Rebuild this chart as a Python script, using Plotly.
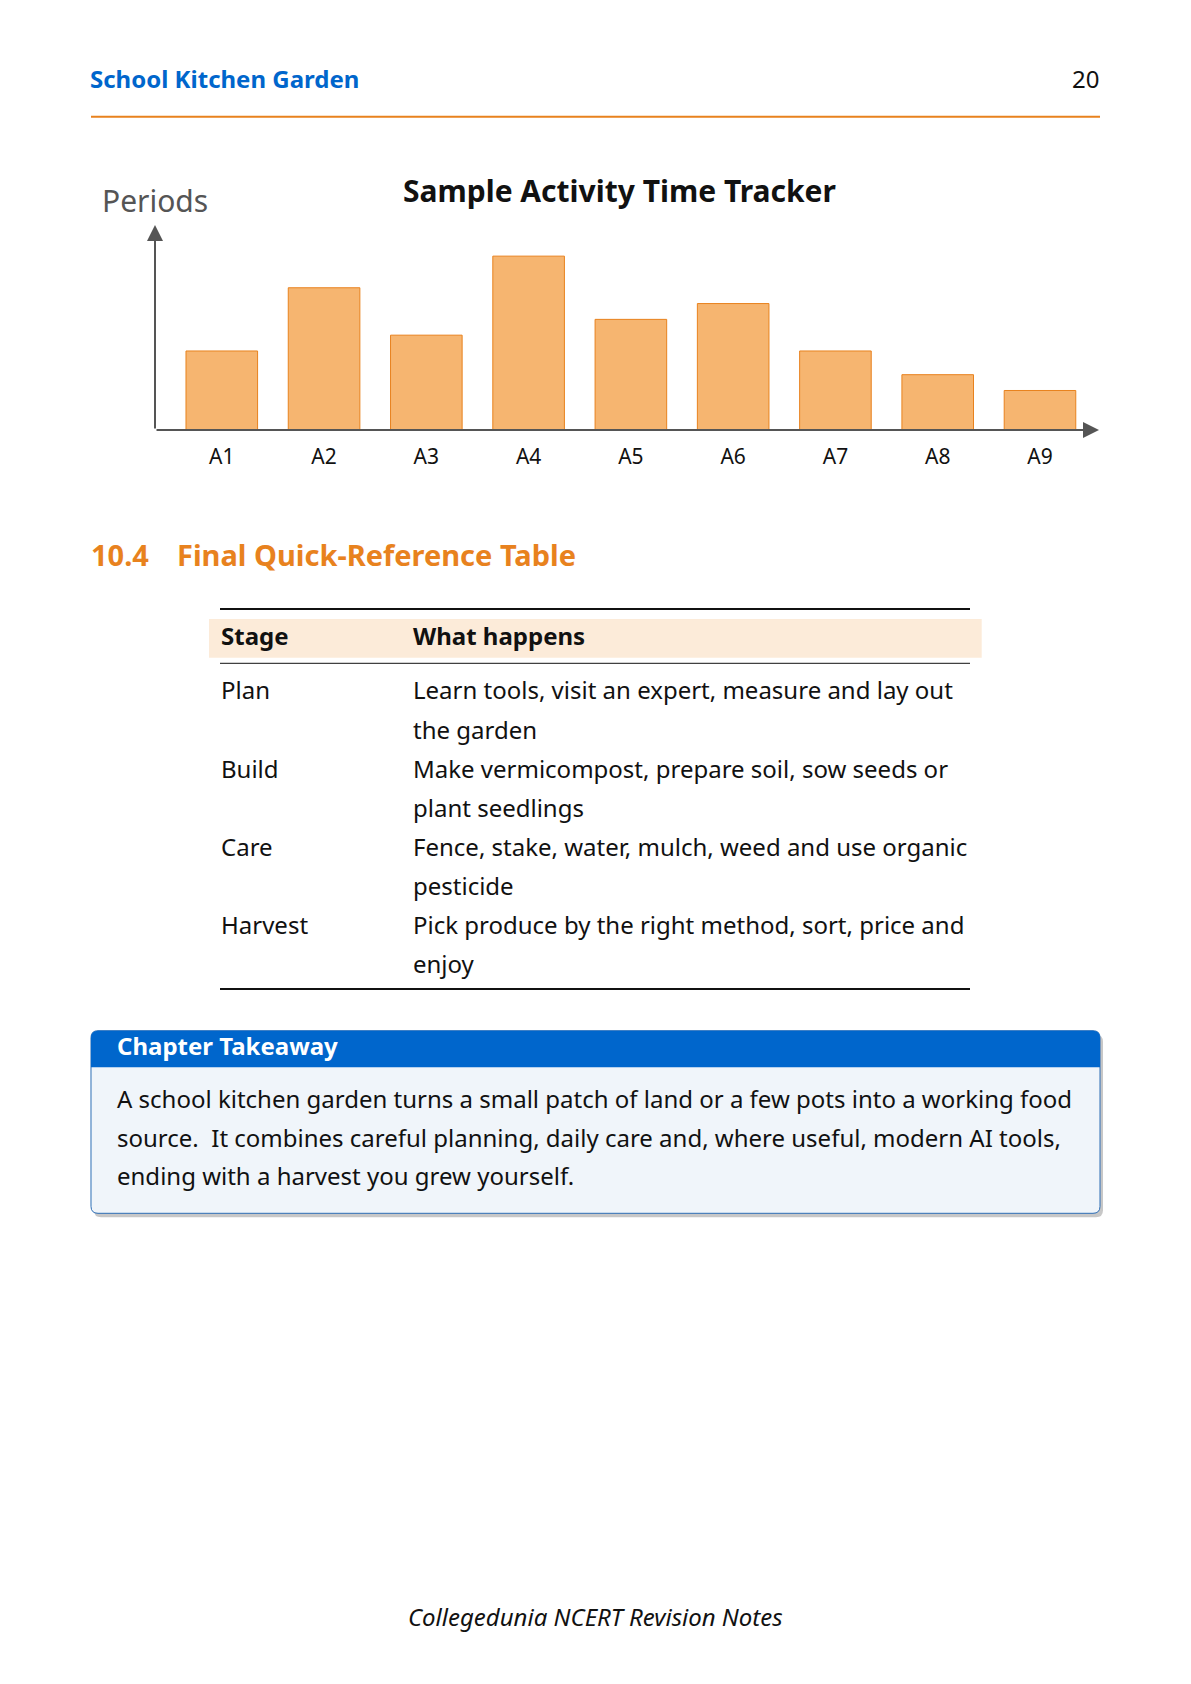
import plotly.graph_objects as go

# page geometry (browser body keeps its 8px margin)
W, H = 1175, 1668
OFF = 8

# chart data
activities = ["A1", "A2", "A3", "A4", "A5", "A6", "A7", "A8", "A9"]
periods = [5, 9, 6, 11, 7, 8, 5, 3.5, 2.5]

# table data
stages = ["Plan", "Build", "Care", "Harvest"]
happens = [
    ["Learn tools, visit an expert, measure and lay out", "the garden"],
    ["Make vermicompost, prepare soil, sow seeds or", "plant seedlings"],
    ["Fence, stake, water, mulch, weed and use organic", "pesticide"],
    ["Pick produce by the right method, sort, price and", "enjoy"],
]
takeaway_lines = [
    "A school kitchen garden turns a small patch of land or a few pots into a working food",
    "source.  It combines careful planning, daily care and, where useful, modern AI tools,",
    "ending with a harvest you grew yourself.",
]

BLUE = "#0066CC"
ORANGE = "#E8821E"
BAR_FILL = "#F6B570"
FONT = "Noto Sans"
BODY = 24


def px(x):
    return (x - OFF) / W


def py(y):
    return 1 - (y - OFF) / H


def text(fig, s, x, base, size, color="#111111", bold=False, italic=False, anchor="left"):
    # place a line of text by its baseline (pixel coords)
    if bold:
        s = f"<b>{s}</b>"
    if italic:
        s = f"<i>{s}</i>"
    if anchor == "left":
        x -= 2
    fig.add_annotation(
        text=s, x=px(x), y=py(base - 0.388 * size),
        xref="paper", yref="paper", xanchor=anchor, yanchor="middle",
        showarrow=False, borderpad=0,
        font=dict(family=FONT, size=size, color=color),
    )


def hline(fig, x0, x1, y, color, width):
    fig.add_shape(type="line", xref="paper", yref="paper",
                  x0=px(x0), x1=px(x1), y0=py(y), y1=py(y),
                  line=dict(color=color, width=width))


def rect(fig, x0, y0, x1, y1, fill):
    fig.add_shape(type="rect", xref="paper", yref="paper", layer="below",
                  x0=px(x0), x1=px(x1), y0=py(y1), y1=py(y0),
                  fillcolor=fill, line=dict(width=0))


def rounded(x0, y0, x1, y1, r, top=True, bottom=True):
    def P(x, y):
        return f"{px(x):.6f},{py(y):.6f}"
    rt = r if top else 0
    rb = r if bottom else 0
    return (f"M {P(x0 + rt, y0)} L {P(x1 - rt, y0)} Q {P(x1, y0)} {P(x1, y0 + rt)} "
            f"L {P(x1, y1 - rb)} Q {P(x1, y1)} {P(x1 - rb, y1)} "
            f"L {P(x0 + rb, y1)} Q {P(x0, y1)} {P(x0, y1 - rb)} "
            f"L {P(x0, y0 + rt)} Q {P(x0, y0)} {P(x0 + rt, y0)} Z")


fig = go.Figure()

# bar chart
fig.add_trace(go.Bar(
    x=activities, y=periods,
    marker=dict(color=BAR_FILL, line=dict(color=ORANGE, width=1)),
    hoverinfo="x+y",
))

fig.update_layout(
    width=W, height=H,
    margin=dict(l=0, r=0, t=0, b=0),
    paper_bgcolor="white", plot_bgcolor="white",
    font=dict(family=FONT, color="#111111"),
    showlegend=False,
    bargap=0.3,
    xaxis=dict(domain=[px(155), px(1099)], range=[-0.653, 8.577],
               showline=False, showgrid=False, zeroline=False, ticks="",
               tickfont=dict(family=FONT, size=21, color="#111111"),
               ticklabelstandoff=12, fixedrange=True),
    yaxis=dict(domain=[py(430), py(225)], range=[0, 12.97],
               showline=False, showgrid=False, zeroline=False,
               showticklabels=False, fixedrange=True),
)

# axis arrows
fig.add_annotation(x=px(155), y=py(225), xref="paper", yref="paper", text="",
                   showarrow=True, ax=0, ay=205, arrowhead=2, arrowsize=1.6,
                   arrowwidth=2, arrowcolor="#555555", standoff=0)
fig.add_annotation(x=px(1099), y=py(430), xref="paper", yref="paper", text="",
                   showarrow=True, ax=-944, ay=0, arrowhead=2, arrowsize=1.6,
                   arrowwidth=2, arrowcolor="#555555", standoff=0)

# running header
text(fig, "School Kitchen Garden", 91, 88, 24, color=BLUE, bold=True)
text(fig, "20", 1100, 87.7, 24, anchor="right")
hline(fig, 91, 1100, 116.7, ORANGE, 2)

# chart labels
text(fig, "Periods", 103, 212, 30, color="#555555")
text(fig, "Sample Activity Time Tracker", 619, 201.7, 30, bold=True, anchor="center")

# section heading
text(fig, "10.4", 91.7, 565.7, 29, color=ORANGE, bold=True)
text(fig, "Final Quick-Reference Table", 177.7, 565.7, 29, color=ORANGE, bold=True)

# table
rect(fig, 209, 619, 981.7, 657.7, "#FCEBD9")
hline(fig, 220, 970, 609, "#111111", 2)
hline(fig, 220, 970, 663.3, "#111111", 1)
hline(fig, 220, 970, 989, "#111111", 2)
text(fig, "Stage", 221.7, 645, BODY, bold=True)
text(fig, "What happens", 414.3, 645, BODY, bold=True)
row_base = 699.3
line_gap = 39.1
for i, (stage, lines) in enumerate(zip(stages, happens)):
    b = row_base + i * 2 * line_gap
    text(fig, stage, 221.7, b, BODY)
    for j, ln in enumerate(lines):
        text(fig, ln, 414.3, b + j * line_gap, BODY)

# takeaway box
bx0, by0, bx1, by1, bh = 91, 1030.7, 1100, 1213.3, 1067.3
fig.add_shape(type="path", xref="paper", yref="paper", layer="below",
              path=rounded(bx0 + 3, by0 + 4, bx1 + 3, by1 + 4, 7),
              fillcolor="rgba(0,0,0,0.22)", line=dict(width=0))
fig.add_shape(type="path", xref="paper", yref="paper", layer="below",
              path=rounded(bx0, by0, bx1, by1, 7),
              fillcolor="#F0F5FA", line=dict(color="#2C6DB5", width=1))
fig.add_shape(type="path", xref="paper", yref="paper", layer="below",
              path=rounded(bx0, by0, bx1, bh, 7, bottom=False),
              fillcolor=BLUE, line=dict(width=0))
text(fig, "Chapter Takeaway", 117.7, 1055, BODY, color="white", bold=True)
for k, ln in enumerate(takeaway_lines):
    text(fig, ln, 117.7, 1108.3 + k * 38.4, BODY)

# footer
text(fig, "Collegedunia NCERT Revision Notes", 595, 1626, BODY, italic=True, anchor="center")

fig.write_html("out.html")
